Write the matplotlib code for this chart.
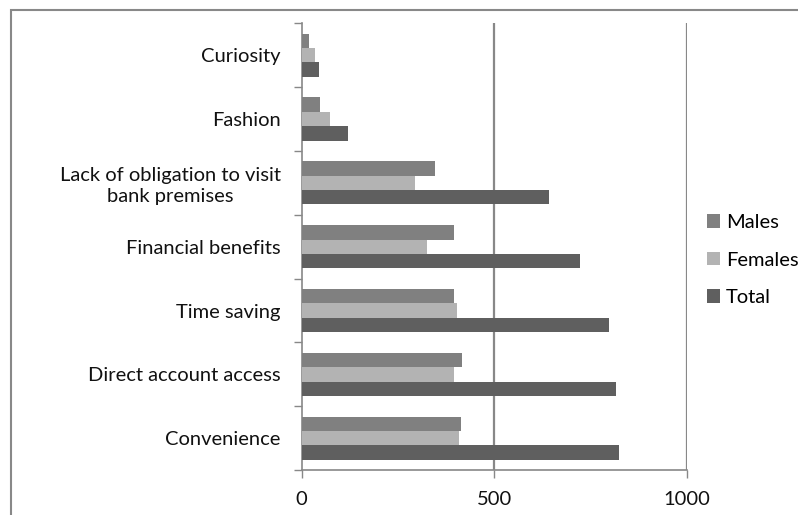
import matplotlib.pyplot as plt
from matplotlib.patches import Rectangle
import numpy as np

# categories listed bottom to top
categories = ["Convenience", "Direct account access", "Time saving",
              "Financial benefits", "Lack of obligation to visit\nbank premises",
              "Fashion", "Curiosity"]
males = [414, 416, 396, 396, 346, 47, 19]
females = [408, 396, 403, 325, 293, 74, 34]
total = [823, 815, 798, 723, 643, 119, 45]
series_names = ["Males", "Females", "Total"]
colors = ["#808080", "#b3b3b3", "#5f5f5f"]

plt.rcParams['font.family'] = ['Lato', 'DejaVu Sans']

fig = plt.figure(figsize=(7.98, 5.15), dpi=100)
ax = fig.add_axes([0.378, 0.087, 0.483, 0.868])

y = np.arange(len(categories))
h = 0.225
for vals, off, c, name in zip([males, females, total], [h, 0, -h], colors, series_names):
    ax.barh(y + off, vals, height=h, color=c, label=name, zorder=3)

ax.set_xlim(0, 1000)
ax.set_ylim(-0.5, len(categories) - 0.5)
ax.set_xticks([0, 500, 1000])
ax.set_yticks(y)
ax.set_yticklabels(categories, multialignment='center', linespacing=1.25)
ax.set_yticks(np.arange(len(categories) + 1) - 0.5, minor=True)
ax.tick_params(axis='y', which='major', length=0, pad=15, labelsize=14.5, labelcolor='#111111')
ax.tick_params(axis='y', which='minor', length=6, color='#888888', width=1)
ax.tick_params(axis='x', length=6, color='#888888', width=1, labelsize=14.5, pad=9, labelcolor='#111111')

for v in [500, 1000]:
    ax.axvline(v, color='#888888', lw=1.6, zorder=1)

for s in ['top', 'right']:
    ax.spines[s].set_visible(False)
for s in ['left', 'bottom']:
    ax.spines[s].set_color('#888888')
    ax.spines[s].set_linewidth(1.2)

handles, labels = ax.get_legend_handles_labels()
fig.legend(handles, labels, loc='upper left', bbox_to_anchor=(0.876, 0.60),
           frameon=False, fontsize=14.5, handlelength=0.65, handleheight=0.65,
           handletextpad=0.3, labelspacing=1.02, borderaxespad=0)

# outer chart frame (cropped on right and bottom)
fig.patches.append(Rectangle((11 / 798, -0.05), 1.0, 1 - 10 / 515 + 0.05,
                             transform=fig.transFigure, fill=False,
                             edgecolor='#888888', lw=1.5))

fig.savefig("out.png", dpi=100)
